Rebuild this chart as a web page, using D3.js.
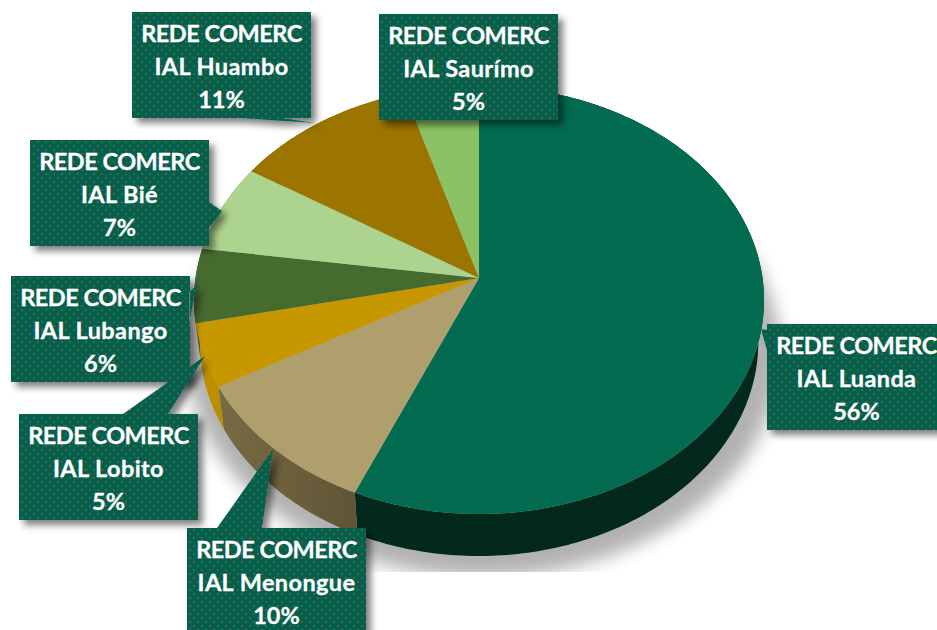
<!DOCTYPE html>
<html>
<head>
<meta charset="utf-8">
<script src="https://cdn.jsdelivr.net/npm/d3@7"></script>
<style>
html, body { margin: 0; padding: 0; background: #fff; overflow: hidden; }
text { font-family: Lato, sans-serif; font-weight: 700; font-size: 23.5px; fill: #fff; stroke: #fff; stroke-width: 0.3px; text-anchor: middle; }
</style>
</head>
<body>
<script>
var width = 937,
    height = 630;

var names = ["Luanda", "Menongue", "Lobito", "Lubango", "Bié", "Huambo", "Saurímo"];
// the labels show them rounded
var values = [56.49, 10.4, 4.75, 5.6, 6.7, 11.4, 4.66];
var topColors = ["#026b50", "#ae9f6c", "#c79700", "#466b2f", "#add48f", "#9c7500", "#8bc265"];
var wallColors = ["#02291c", "#665a3a", "#9e7800", "#2f451c", "#6f8a57", "#5f4700", "#557a3d"];

// label boxes: top left corner, then the callout triangle (two base points + tip)
var boxes = [[767, 324], [187, 528], [19, 414], [11, 276], [30, 140], [132, 12], [379, 14]];
var callouts = [
  [[767, 330], [767, 350], [761, 329]],
  [[217, 528], [262, 528], [273, 449]],
  [[123, 414], [168, 414], [205, 356]],
  [[189, 292], [189, 323], [197, 285]],
  [[209, 202], [209, 228], [222, 211]],
  [[240, 118], [282, 118], [315, 123]],
  null
];
var drawOrder = [6, 5, 4, 3, 2, 1, 0];

var boxW = 179, boxH = 106;
var cx = 479, cy = 300, rx = 285, ry = 214, depth = 42;
var tilt = 0.103; // pushes the pie centre up, gives the perspective look

var svg = d3.select("body").append("svg")
    .attr("width", width)
    .attr("height", height)
    .style("display", "block");

var defs = svg.append("defs");

var blur = defs.append("filter").attr("id", "blur")
    .attr("x", "-20%").attr("y", "-20%").attr("width", "140%").attr("height", "140%");
blur.append("feGaussianBlur").attr("stdDeviation", 9);

var boxShadow = defs.append("filter").attr("id", "boxShadow")
    .attr("x", "-20%").attr("y", "-20%").attr("width", "140%").attr("height", "140%");
boxShadow.append("feDropShadow")
    .attr("dx", 5).attr("dy", 5).attr("stdDeviation", 3.5)
    .attr("flood-color", "#000").attr("flood-opacity", 0.5);

var dots = defs.append("pattern").attr("id", "dots")
    .attr("patternUnits", "userSpaceOnUse")
    .attr("width", 8).attr("height", 8);
dots.append("rect").attr("width", 8).attr("height", 8).attr("fill", "#01624a");
dots.append("circle").attr("cx", 2).attr("cy", 2).attr("r", 1.1).attr("fill", "#75505f");
dots.append("circle").attr("cx", 6).attr("cy", 6).attr("r", 1.1).attr("fill", "#75505f");

defs.append("clipPath").attr("id", "shadowClip")
  .append("rect").attr("width", width).attr("height", 572);

// wall gradients, lighter at the left end of the visible side
wallColors.forEach(function(c, i) {
  var g = defs.append("linearGradient").attr("id", "wall" + i)
      .attr("gradientUnits", "userSpaceOnUse")
      .attr("x1", 210).attr("x2", 360).attr("y1", 0).attr("y2", 0);
  g.append("stop").attr("offset", "0%").attr("stop-color", d3.rgb(c).brighter(0.5));
  g.append("stop").attr("offset", "100%").attr("stop-color", d3.rgb(c).darker(0.2));
});

var pie = d3.pie().sort(null)(values);

// point on the tilted disc, r 0..1, angle clockwise from the top
function project(r, a) {
  var u = r * Math.sin(a),
      v = r * Math.cos(a),
      d = 1 + tilt * v;
  return [cx + rx * Math.sqrt(1 - tilt * tilt) * u / d,
          cy - ry * (v + tilt) / d];
}

function arcPoints(a0, a1) {
  var n = Math.max(2, Math.ceil((a1 - a0) * 60));
  return d3.range(n + 1).map(function(i) {
    return project(1, a0 + (a1 - a0) * i / n);
  });
}

var line = d3.line();

// shadow under the pie
svg.append("g").attr("clip-path", "url(#shadowClip)")
  .append("ellipse")
    .attr("cx", cx + 4).attr("cy", cy + depth + 11)
    .attr("rx", rx + 12).attr("ry", ry + 10)
    .attr("fill", "#000").attr("opacity", 0.3)
    .attr("filter", "url(#blur)");

// side walls
svg.append("g").selectAll("path")
    .data(pie)
  .enter().append("path")
    .attr("fill", function(d, i) { return i == 0 ? wallColors[0] : "url(#wall" + i + ")"; })
    .attr("d", function(d) {
      var top = arcPoints(d.startAngle, d.endAngle);
      var bottom = top.map(function(p) {
        return [cx + (p[0] - cx) * 0.98, p[1] + depth];
      }).reverse();
      return line(top.concat(bottom)) + "Z";
    });

// top faces
svg.append("g").selectAll("path")
    .data(pie)
  .enter().append("path")
    .attr("fill", function(d, i) { return topColors[i]; })
    .attr("d", function(d) {
      return line([project(0, 0)].concat(arcPoints(d.startAngle, d.endAngle))) + "Z";
    });

// labels
var labels = svg.append("g").selectAll("g")
    .data(drawOrder)
  .enter().append("g");

labels.append("path")
    .attr("fill", "url(#dots)")
    .attr("filter", "url(#boxShadow)")
    .attr("d", function(i) {
      var b = boxes[i];
      var d = "M" + b[0] + "," + b[1] + "h" + boxW + "v" + boxH + "h" + (-boxW) + "Z";
      if (callouts[i]) d += line(callouts[i]) + "Z";
      return d;
    });

labels.each(function(i) {
  var b = boxes[i];
  var rows = ["REDE COMERC", "IAL " + names[i], Math.round(values[i]) + "%"];
  d3.select(this).selectAll("text")
      .data(rows)
    .enter().append("text")
      .attr("x", b[0] + boxW / 2)
      .attr("y", function(d, j) { return b[1] + 30 + j * 32.8; })
      .attr("letter-spacing", function(d, j) { return j == 0 ? -0.5 : j == 1 ? 0.4 : 0; })
      .text(function(d) { return d; });
});
</script>
</body>
</html>
